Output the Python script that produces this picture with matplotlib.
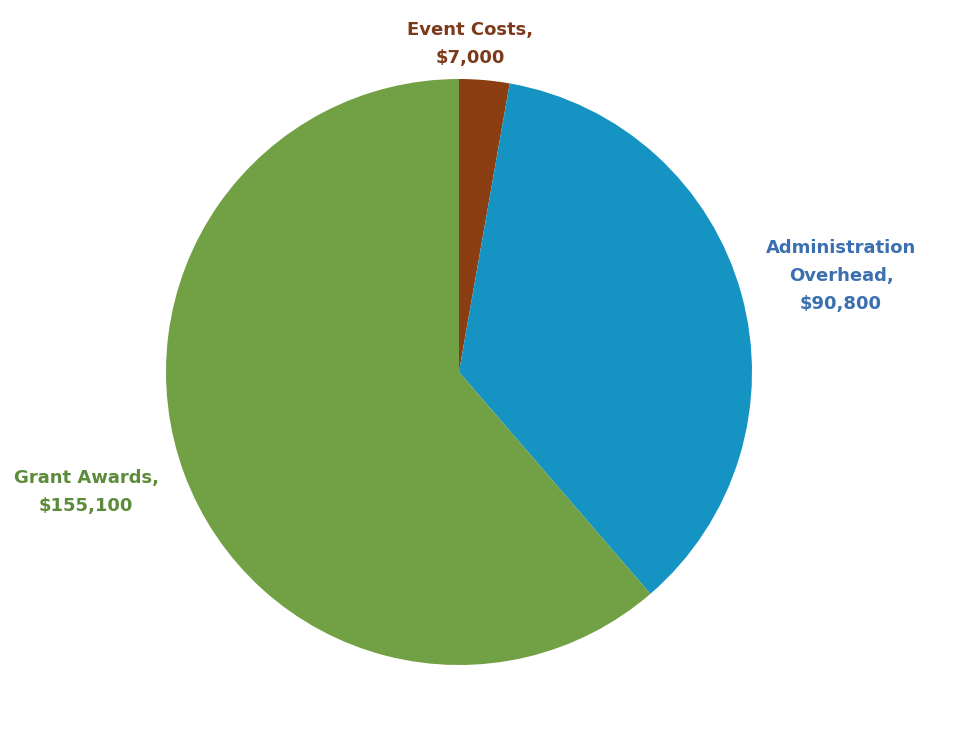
import matplotlib
matplotlib.use('Agg')
import matplotlib.pyplot as plt

# Data
categories = ['Event Costs', 'Administration Overhead', 'Grant Awards']
values = [7000, 90800, 155100]
slice_colors = ['#8B3E12', '#1593C2', '#72A044']
label_colors = ['#7B3A1C', '#3A70B0', '#5C8C3A']
label_texts = ['Event Costs,\n$7,000', 'Administration\nOverhead,\n$90,800', 'Grant Awards,\n$155,100']

W, H = 974, 730
fig = plt.figure(figsize=(W / 100, H / 100), dpi=100)
ax = fig.add_axes([0, 0, 1, 1])

cx, cy, r = 459, H - 372, 293
ax.pie(values, colors=slice_colors, startangle=90, counterclock=False,
       center=(cx, cy), radius=r, frame=True,
       wedgeprops=dict(linewidth=0))
ax.set_xlim(0, W)
ax.set_ylim(0, H)
ax.set_aspect('equal')
ax.axis('off')

# label positions in pixel coords (from top)
label_pos = [(470, 44), (841, 276), (86, 492)]
for (x, y), txt, c in zip(label_pos, label_texts, label_colors):
    ax.text(x, H - y, txt, color=c, fontsize=13, fontweight='bold',
            family='DejaVu Sans', ha='center', va='center', linespacing=1.68)

fig.savefig('out.png', dpi=100)
